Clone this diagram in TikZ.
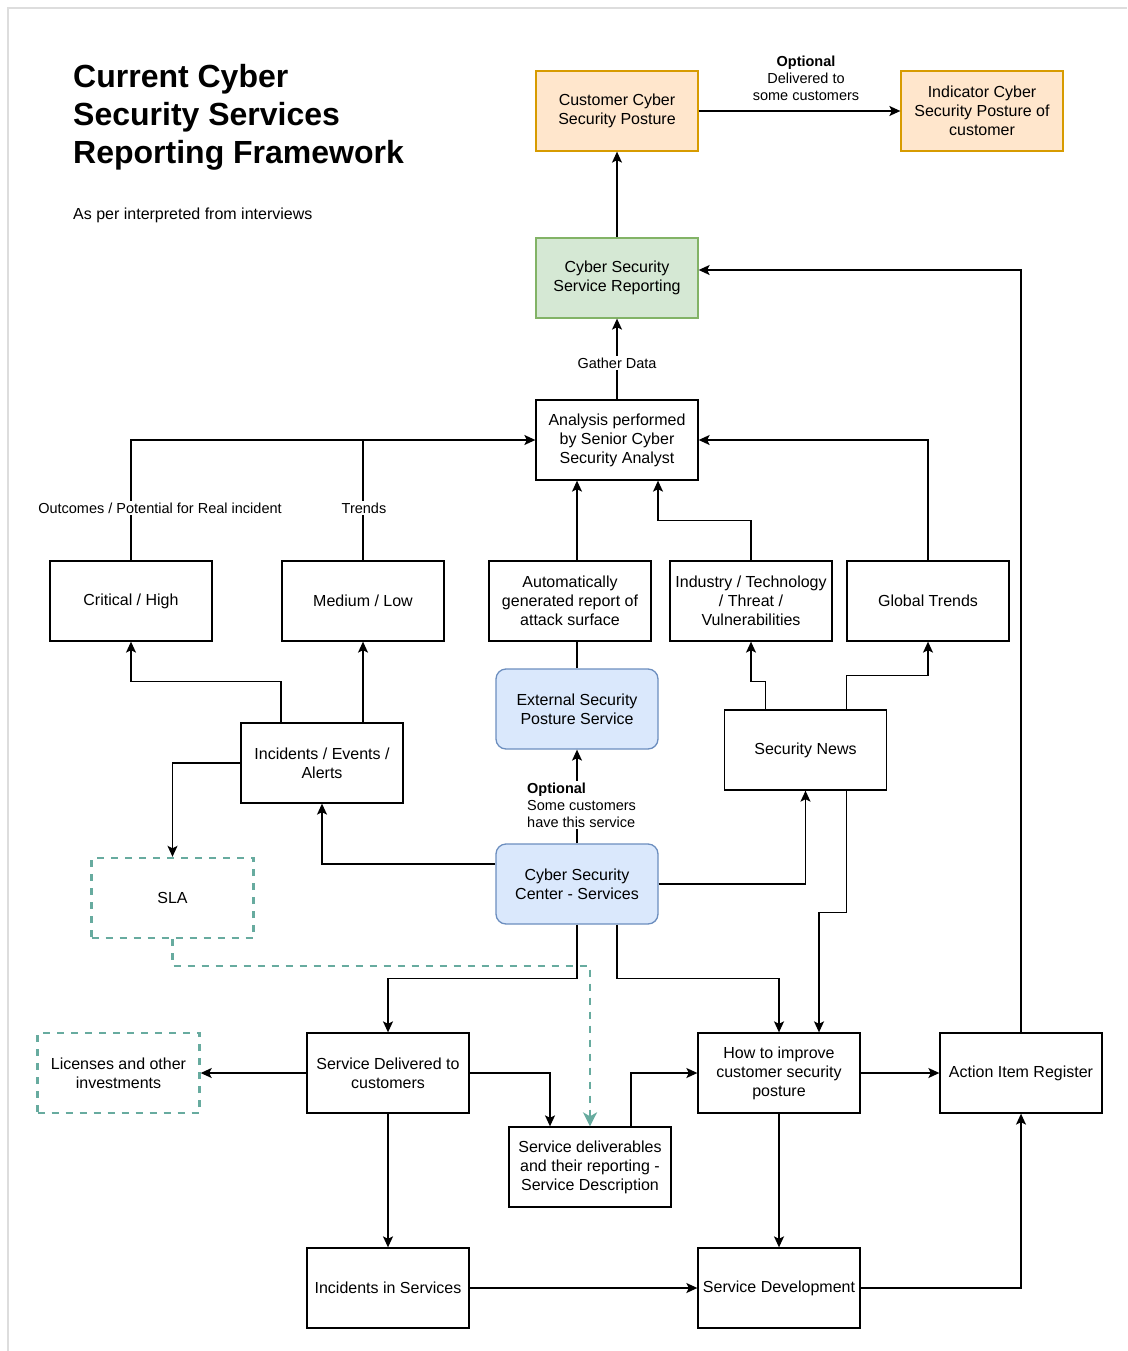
\documentclass[tikz,border=0pt]{standalone}
\usepackage{fontspec}
\setmainfont{Liberation Sans}
\usetikzlibrary{arrows.meta}

\definecolor{orfill}{HTML}{FFE6CC}
\definecolor{ordraw}{HTML}{D79B00}
\definecolor{grfill}{HTML}{D5E8D4}
\definecolor{grdraw}{HTML}{82B366}
\definecolor{blfill}{HTML}{DAE8FC}
\definecolor{bldraw}{HTML}{6C8EBF}
\definecolor{tealline}{HTML}{67AB9F}
\definecolor{framegray}{HTML}{DDDDDD}

\tikzset{
  basebox/.style={line width=1.3pt, minimum width=162pt, minimum height=80pt,
    inner sep=2pt, align=center, font=\fontsize{16}{19}\selectfont, text=black},
  box/.style={basebox, draw=black},
  obox/.style={basebox, draw=ordraw, fill=orfill},
  gbox/.style={basebox, draw=grdraw, fill=grfill},
  rbox/.style={basebox, draw=bldraw, fill=blfill, rounded corners=10pt},
  dbox/.style={basebox, draw=tealline, line width=2.4pt, dash pattern=on 7pt off 7pt},
  lbl/.style={font=\fontsize{14.5}{17}\selectfont, text=black, fill=white, inner sep=2pt, align=center},
  arr/.style={line width=1.4pt, -{Stealth[length=11pt,width=10pt,inset=2.5pt]}},
  plain/.style={line width=1.4pt},
  tarr/.style={line width=2.4pt, draw=tealline, dash pattern=on 7pt off 7pt,
    -{Stealth[length=14pt,width=14pt,inset=4pt,fill=tealline]}},
}

\begin{document}
\begin{tikzpicture}[x=1pt, y=-1pt]
  \useasboundingbox (0,0) rectangle (1127,1351);
  \fill[white] (0,0) rectangle (1127,1351);
  \draw[framegray, line width=2pt] (8,1351) -- (8,8) -- (1127,8);

  % heading
  \node[anchor=north west, inner sep=0pt, align=left,
        font=\fontsize{32}{38}\selectfont\bfseries] (title) at (73,64.5)
        {Current Cyber\\Security Services\\Reporting Framework};
  \node[anchor=west, inner sep=0pt, font=\fontsize{16}{19}\selectfont] (subtitle)
        at (73,215) {As per interpreted from interviews};

  % boxes
  \node[obox] (ccsp) at (617,111) {Customer Cyber\\Security Posture};
  \node[obox] (icsp) at (982,111) {Indicator Cyber\\Security Posture of\\customer};
  \node[gbox] (cssr) at (617,278) {Cyber Security\\Service Reporting};
  \node[box]  (ana)  at (617,440) {Analysis performed\\by Senior Cyber\\Security Analyst};
  \node[box]  (crit) at (131,601) {Critical / High};
  \node[box]  (med)  at (363,601) {Medium / Low};
  \node[box]  (auto) at (570,601) {Automatically\\generated report of\\attack surface};
  \node[box]  (ind)  at (751,601) {Industry / Technology\\/ Threat /\\Vulnerabilities};
  \node[box]  (glob) at (928,601) {Global Trends};
  \node[rbox] (ext)  at (577,709) {External Security\\Posture Service};
  \node[box]  (news) at (805.5,750) {Security News};
  \node[box]  (inc)  at (322,763) {Incidents / Events /\\Alerts};
  \node[dbox] (sla)  at (172.5,898) {SLA};
  \node[rbox] (csc)  at (577,884) {Cyber Security\\Center - Services};
  \node[dbox] (lic)  at (118.5,1073) {Licenses and other\\investments};
  \node[box]  (sdel) at (388,1073) {Service Delivered to\\customers};
  \node[box]  (sdesc) at (590,1167) {Service deliverables\\and their reporting -\\Service Description};
  \node[box]  (how)  at (779,1073) {How to improve\\customer security\\posture};
  \node[box]  (act)  at (1021,1073) {Action Item Register};
  \node[box]  (iis)  at (388,1288) {Incidents in Services};
  \node[box]  (sdev) at (779,1288) {Service Development};

  % upper connectors
  \draw[arr] (cssr.north) -- (ccsp.south);
  \draw[arr] (ccsp.east) -- (icsp.west);
  \draw[arr] (ana.north) -- node[lbl, pos=0.45] (gather) {Gather Data} (cssr.south);
  \draw[arr] (crit.north) |- (ana.west);
  \draw[plain] (med.north) -- (med.north |- ana.west);
  \draw[arr] ([xshift=-40pt]ana.south |- auto.north) -- ([xshift=-40pt]ana.south);
  \draw[arr] (ind.north) -- ++(0,-40) -| ([xshift=41pt]ana.south);
  \draw[arr] (glob.north) |- (ana.east);
  \draw[arr] (act.north) |- ([yshift=8pt]cssr.east);

  % middle connectors
  \draw[plain] (ext.north) -- (ext.north |- auto.south);
  \draw[arr] (csc.north) -- (ext.south);
  \draw[arr] ([xshift=-40pt]news.north) -- ++(0,-28) -| (ind.south);
  \draw[arr] ([xshift=41pt]news.north) -- ++(0,-34) -| (glob.south);
  \draw[arr] ([xshift=-41pt]inc.north) -- ++(0,-41) -| (crit.south);
  \draw[arr] ([xshift=41pt]inc.north) -- (med.south);
  \draw[arr] (inc.west) -| (sla.north);
  \draw[arr] ([yshift=20pt]csc.west) -| (inc.south);
  \draw[arr] (csc.east) -| (news.south);
  \draw[arr] ([xshift=41pt]news.south) -- ++(0,122) -| ([xshift=40pt]how.north);
  \draw[arr] (csc.south) -- ++(0,54) -| (sdel.north);
  \draw[arr] ([xshift=40pt]csc.south) -- ++(0,54) -| (how.north);
  \draw[tarr] (sla.south) -- ++(0,27) -| (sdesc.north);

  % lower connectors
  \draw[arr] (sdel.west) -- (lic.east);
  \draw[arr] (sdel.east) -| ([xshift=-40pt]sdesc.north);
  \draw[arr] ([xshift=41pt]sdesc.north) |- (how.west);
  \draw[arr] (how.east) -- (act.west);
  \draw[arr] (sdel.south) -- (iis.north);
  \draw[arr] (how.south) -- (sdev.north);
  \draw[arr] (iis.east) -- (sdev.west);
  \draw[arr] (sdev.east) -| (act.south);

  % connector labels
  \node[lbl] (optdeliv) at (806,78) {\textbf{Optional}\\Delivered to\\some customers};
  \node[lbl] (outcomes) at (160,508) {Outcomes / Potential for Real incident};
  \node[lbl] (trends) at (364,508) {Trends};
  \node[lbl, anchor=west, align=left] (optsome) at (525,805)
        {\textbf{Optional}\\Some customers\\have this service};
\end{tikzpicture}
\end{document}
